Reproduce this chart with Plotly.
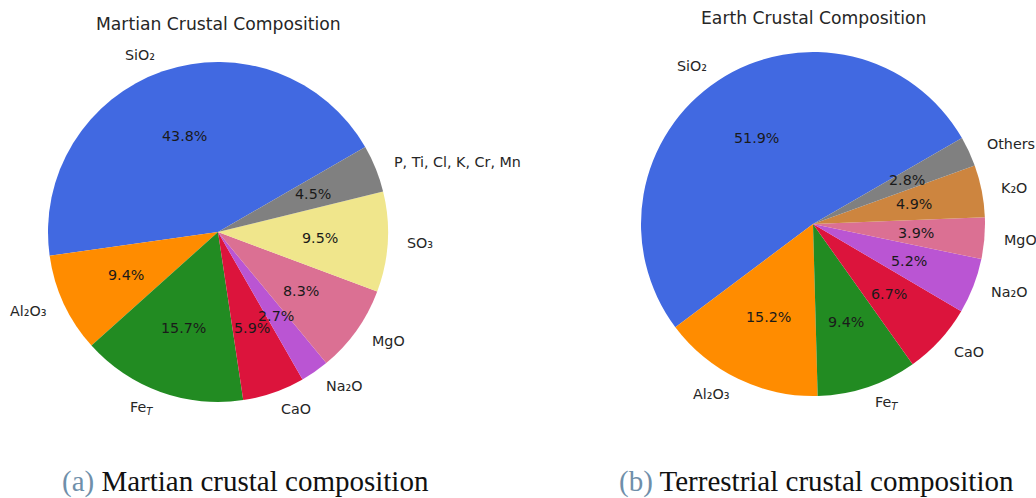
import math
import plotly.graph_objects as go

W, H = 1036, 498

# Martian crust (wt %)
mars_labels = ["SiO₂", "Al₂O₃", "Fe<sub><i>T</i></sub>", "CaO",
               "Na₂O", "MgO", "SO₃", "P, Ti, Cl, K, Cr, Mn"]
mars_values = [43.8, 9.4, 15.7, 5.9, 2.7, 8.3, 9.5, 4.5]
mars_colors = ["#4169E1", "#FF8C00", "#228B22", "#DC143C", "#BA55D3", "#DB7093", "#F0E68C", "#808080"]

# Terrestrial crust (wt %)
earth_labels = ["SiO₂", "Al₂O₃", "Fe<sub><i>T</i></sub>", "CaO",
                "Na₂O", "MgO", "K₂O", "Others"]
earth_values = [51.9, 15.2, 9.4, 6.7, 5.2, 3.9, 4.9, 2.8]
earth_colors = ["#4169E1", "#FF8C00", "#228B22", "#DC143C", "#BA55D3", "#DB7093", "#CD853F", "#808080"]

START_ANGLE = 30  # degrees, counterclockwise from 3 o'clock
FONT = "DejaVu Sans"
TXT = "#262626"
LABEL_SIZE = 14.3
TITLE_SIZE = 17.2

# pie centres and radii in pixels
pies = [
    dict(cx=218, cy=232, r=170, labels=mars_labels, values=mars_values, colors=mars_colors,
         title="Martian Crustal Composition", ty=24,
         caption="<span style='color:#6f8faa'>(a)</span> Martian crustal composition", capx=245, capy=481),
    dict(cx=813, cy=224, r=172, labels=earth_labels, values=earth_values, colors=earth_colors,
         title="Earth Crustal Composition", ty=18,
         caption="<span style='color:#6f8faa'>(b)</span> Terrestrial crustal composition", capx=816, capy=481),
]

def px(x):
    return x / W

def py(y):
    return 1 - y / H

fig = go.Figure()
annotations = []
for p in pies:
    cx, cy, r = p["cx"], p["cy"], p["r"]
    total = sum(p["values"])
    # plotly's counterclockwise pies put the end of the first slice at `rotation`
    first_end = START_ANGLE + 360 * p["values"][0] / total
    fig.add_trace(go.Pie(
        labels=p["labels"], values=p["values"],
        marker=dict(colors=p["colors"], line=dict(width=0)),
        sort=False, direction="counterclockwise", rotation=90 - first_end,
        textinfo="none", hoverinfo="label+percent", showlegend=False,
        domain=dict(x=[px(cx - r), px(cx + r)], y=[py(cy + r), py(cy - r)]),
    ))
    acc = 0.0
    for lab, v in zip(p["labels"], p["values"]):
        mid = math.radians(START_ANGLE + 360 * (acc + v / 2) / total)
        acc += v
        c, s = math.cos(mid), math.sin(mid)
        # outer category label
        lx, ly = cx + 1.1 * r * c, cy - 1.1 * r * s
        annotations.append(dict(
            x=px(lx), y=py(ly), xref="paper", yref="paper", text=lab, showarrow=False,
            xanchor="left" if c > 0 else "right", yanchor="middle",
            font=dict(family=FONT, size=LABEL_SIZE, color=TXT)))
        # percentage label
        qx, qy = cx + 0.6 * r * c, cy - 0.6 * r * s
        annotations.append(dict(
            x=px(qx), y=py(qy), xref="paper", yref="paper", text=f"{v:.1f}%", showarrow=False,
            xanchor="center", yanchor="middle",
            font=dict(family=FONT, size=LABEL_SIZE, color="#1a1a1a")))
    annotations.append(dict(
        x=px(cx), y=py(p["ty"]), xref="paper", yref="paper", text=p["title"], showarrow=False,
        xanchor="center", yanchor="middle", font=dict(family=FONT, size=TITLE_SIZE, color=TXT)))
    annotations.append(dict(
        x=px(p["capx"]), y=py(p["capy"]), xref="paper", yref="paper", text=p["caption"],
        showarrow=False, xanchor="center", yanchor="middle",
        font=dict(family="Liberation Serif", size=29, color="#111111")))

fig.update_layout(
    width=W, height=H, margin=dict(l=0, r=0, t=0, b=0),
    paper_bgcolor="white", plot_bgcolor="white",
    annotations=annotations,
)

fig.write_html("out.html")
